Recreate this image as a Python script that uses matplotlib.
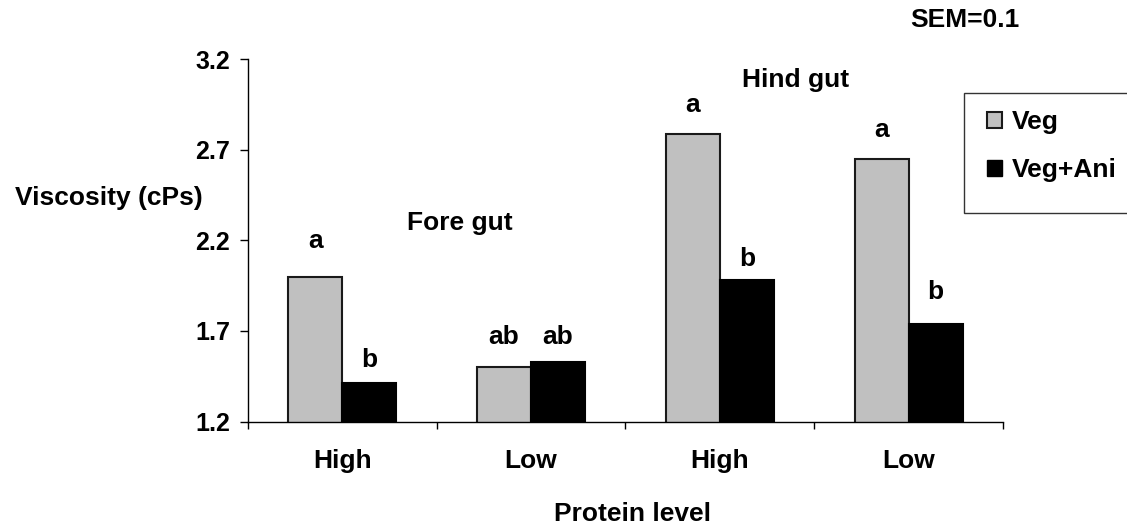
import matplotlib
matplotlib.use("Agg")
import matplotlib.pyplot as plt
from matplotlib.patches import Rectangle, Patch

# viscosity by protein level, fore gut pair then hind gut pair
levels = ["High", "Low", "High", "Low"]
veg = [2.00, 1.50, 2.79, 2.65]
veg_ani = [1.41, 1.53, 1.98, 1.74]
veg_letters = ["a", "ab", "a", "a"]
ani_letters = ["b", "ab", "b", "b"]
yticks = [1.2, 1.7, 2.2, 2.7, 3.2]

plt.rcParams["font.family"] = ["Liberation Sans", "DejaVu Sans"]
plt.rcParams["font.weight"] = "bold"

GRAY = "#c0c0c0"
W = 0.286
veg_gap = [0.16, 0.13, 0.12, 0.12]
ani_gap = [0.09, 0.10, 0.08, 0.135]


def main():
    fig = plt.figure(figsize=(11.27, 5.31), dpi=100)
    ax = fig.add_axes([0.220, 0.2062, 0.670, 0.682])

    xs = list(range(len(levels)))
    ax.bar([x - W / 2 for x in xs], veg, W, color=GRAY,
           edgecolor="#1a1a1a", linewidth=1.5, label="Veg")
    ax.bar([x + W / 2 for x in xs], veg_ani, W, color="black",
           edgecolor="black", linewidth=1.5, label="Veg+Ani")

    for x, v, t, g in zip(xs, veg, veg_letters, veg_gap):
        ax.text(x - W / 2, v + g, t, ha="center", va="baseline",
                fontsize=19, fontweight="bold")
    for x, v, t, g in zip(xs, veg_ani, ani_letters, ani_gap):
        ax.text(x + W / 2, v + g, t, ha="center", va="baseline",
                fontsize=19, fontweight="bold")

    ax.set_xlim(-0.5, len(levels) - 0.5)
    ax.set_ylim(yticks[0], yticks[-1])
    ax.set_yticks(yticks)
    ax.set_yticklabels(["%.1f" % v for v in yticks])
    ax.set_xticks([x - 0.5 for x in range(len(levels) + 1)])
    ax.set_xticklabels([])
    ax.set_xticks(xs, minor=True)
    ax.set_xticklabels(levels, minor=True)

    for s in ["top", "right"]:
        ax.spines[s].set_visible(False)
    for s in ["left", "bottom"]:
        ax.spines[s].set_linewidth(1.0)
    ax.tick_params(axis="y", direction="out", length=6, width=1,
                   labelsize=18, pad=7)
    ax.tick_params(axis="x", which="major", direction="out", length=5,
                   width=1)
    ax.tick_params(axis="x", which="minor", length=0, labelsize=19, pad=20)
    for lab in ax.get_yticklabels() + ax.get_xticklabels(minor=True):
        lab.set_fontweight("bold")

    ax.set_ylabel("Viscosity (cPs)", rotation=0, fontsize=19,
                  fontweight="bold", ha="center", va="center")
    ax.yaxis.set_label_coords(-0.184, 0.617)
    ax.set_xlabel("Protein level", fontsize=19, fontweight="bold")
    ax.xaxis.set_label_coords(0.509, -0.222)

    fig.text(460 / 1127, 1 - 223 / 531, "Fore gut", ha="center",
             va="center", fontsize=19, fontweight="bold")
    fig.text(796 / 1127, 1 - 80 / 531, "Hind gut", ha="center",
             va="center", fontsize=19, fontweight="bold")
    fig.text(965 / 1127, 1 - 20 / 531, "SEM=0.1", ha="center",
             va="center", fontsize=19, fontweight="bold")

    # legend frame runs off the right edge
    fig.patches.append(Rectangle((964 / 1127, 1 - 213 / 531),
                                 0.2, 120 / 531, transform=fig.transFigure,
                                 facecolor="white", edgecolor="#333333",
                                 linewidth=1.0, zorder=0))
    handles = [Patch(facecolor=GRAY, edgecolor="#1a1a1a", linewidth=1.5),
               Patch(facecolor="black", edgecolor="black")]
    fig.legend(handles, ["Veg", "Veg+Ani"], loc="upper left",
               bbox_to_anchor=(987 / 1127, 1 - 110 / 531),
               frameon=False, borderpad=0, borderaxespad=0,
               handlelength=0.57, handleheight=0.57, handletextpad=0.38,
               labelspacing=0.92, prop={"size": 19, "weight": "bold"})

    fig.savefig("out.png", dpi=100)


if __name__ == "__main__":
    main()
